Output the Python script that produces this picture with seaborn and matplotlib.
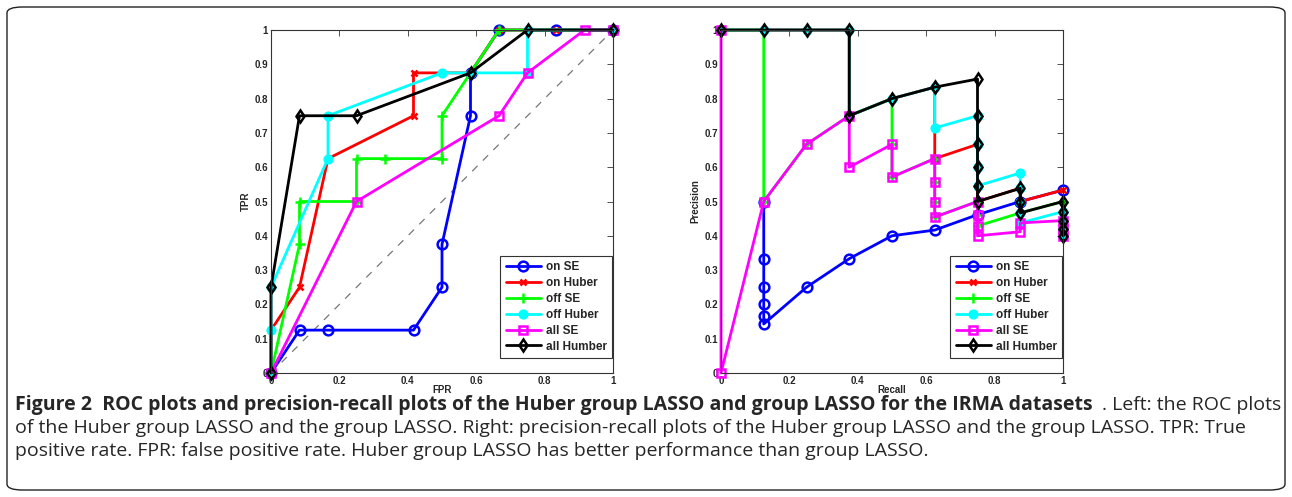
import numpy as np
import pandas as pd
import seaborn as sns
import matplotlib.pyplot as plt
from matplotlib.patches import FancyBboxPatch

#######################################
######## ROC data (FPR, TPR) ##########
#######################################
labels = ['on SE', 'on Huber', 'off SE', 'off Huber', 'all SE', 'all Humber']

roc_on_se_x = [0, 1/12, 2/12, 5/12, 6/12, 6/12, 7/12, 7/12, 8/12, 10/12, 1]
roc_on_se_y = [0, 0.125, 0.125, 0.125, 0.25, 0.375, 0.75, 0.875, 1, 1, 1]
roc_on_hub_x = [0, 0, 1/12, 2/12, 5/12, 5/12, 6/12, 7/12, 8/12, 10/12, 1]
roc_on_hub_y = [0, 0.125, 0.25, 0.625, 0.75, 0.875, 0.875, 0.875, 1, 1, 1]
roc_off_se_x = [0, 1/12, 1/12, 3/12, 3/12, 4/12, 6/12, 6/12, 7/12, 8/12, 1]
roc_off_se_y = [0, 0.375, 0.5, 0.5, 0.625, 0.625, 0.625, 0.75, 0.875, 1, 1]
roc_off_hub_x = [0, 0, 0, 2/12, 2/12, 6/12, 7/12, 9/12, 9/12, 1]
roc_off_hub_y = [0, 0.125, 0.25, 0.625, 0.75, 0.875, 0.875, 0.875, 1, 1]
roc_all_se_x = [0, 3/12, 8/12, 9/12, 11/12, 1]
roc_all_se_y = [0, 0.5, 0.75, 0.875, 1, 1]
roc_all_hub_x = [0, 0, 1/12, 3/12, 7/12, 9/12, 1]
roc_all_hub_y = [0, 0.25, 0.75, 0.75, 0.875, 1, 1]

#######################################
######## PR data (Recall, Precision) ##
#######################################
pr_on_se_x = [0.125, 0.125, 0.125, 0.125, 0.125, 0.125, 0.25, 0.375, 0.5, 0.625, 0.75, 0.875, 1]
pr_on_se_y = [0.5, 0.3333, 0.25, 0.2, 0.1667, 0.1429, 0.25, 0.3333, 0.4, 0.4167, 0.4615, 0.5, 0.5333]
pr_on_hub_x = [0, 0.125, 0.25, 0.375, 0.375, 0.5, 0.625, 0.625, 0.625, 0.75, 0.75, 0.75, 0.75, 0.875, 0.875, 1]
pr_on_hub_y = [1, 1, 1, 1, 0.75, 0.8, 0.8333, 0.7143, 0.625, 0.6667, 0.6, 0.5455, 0.5, 0.5385, 0.5, 0.5333]
pr_off_se_x = [0, 0.125, 0.125, 0.25, 0.375, 0.5, 0.5, 0.5, 0.625, 0.625, 0.625, 0.625, 0.75, 0.75, 0.75, 0.875, 1]
pr_off_se_y = [1, 1, 0.5, 0.6667, 0.75, 0.8, 0.6667, 0.5714, 0.625, 0.5556, 0.5, 0.4545, 0.5, 0.4615, 0.4286, 0.4667, 0.5]
pr_off_hub_x = [0, 0.125, 0.25, 0.375, 0.375, 0.5, 0.625, 0.625, 0.75, 0.75, 0.75, 0.75, 0.875, 0.875, 0.875, 0.875, 0.875, 1, 1, 1, 1]
pr_off_hub_y = [1, 1, 1, 1, 0.75, 0.8, 0.8333, 0.7143, 0.75, 0.6667, 0.6, 0.5455, 0.5833, 0.5385, 0.5, 0.4667, 0.4375, 0.4706, 0.4444, 0.4211, 0.4]
pr_all_se_x = [0, 0, 0.125, 0.25, 0.375, 0.375, 0.5, 0.5, 0.625, 0.625, 0.625, 0.625, 0.75, 0.75, 0.75, 0.75, 0.875, 0.875, 1, 1, 1]
pr_all_se_y = [1, 0, 0.5, 0.6667, 0.75, 0.6, 0.6667, 0.5714, 0.625, 0.5556, 0.5, 0.4545, 0.5, 0.4615, 0.4286, 0.4, 0.4118, 0.4375, 0.4444, 0.4211, 0.4]
pr_all_hub_x = [0, 0.125, 0.25, 0.375, 0.375, 0.5, 0.625, 0.75, 0.75, 0.75, 0.75, 0.75, 0.75, 0.875, 0.875, 0.875, 1, 1, 1, 1, 1]
pr_all_hub_y = [1, 1, 1, 1, 0.75, 0.8, 0.8333, 0.8571, 0.75, 0.6667, 0.6, 0.5455, 0.5, 0.5385, 0.5, 0.4667, 0.5, 0.4706, 0.4444, 0.4211, 0.4]

roc_data = [(roc_on_se_x, roc_on_se_y), (roc_on_hub_x, roc_on_hub_y), (roc_off_se_x, roc_off_se_y),
            (roc_off_hub_x, roc_off_hub_y), (roc_all_se_x, roc_all_se_y), (roc_all_hub_x, roc_all_hub_y)]
pr_data = [(pr_on_se_x, pr_on_se_y), (pr_on_hub_x, pr_on_hub_y), (pr_off_se_x, pr_off_se_y),
           (pr_off_hub_x, pr_off_hub_y), (pr_all_se_x, pr_all_se_y), (pr_all_hub_x, pr_all_hub_y)]

x_ticks = [0, 0.2, 0.4, 0.6, 0.8, 1]
y_ticks = [0, 0.1, 0.2, 0.3, 0.4, 0.5, 0.6, 0.7, 0.8, 0.9, 1]
x_ticklabels = ['0', '0.2', '0.4', '0.6', '0.8', '1']
y_ticklabels = ['0', '0.1', '0.2', '0.3', '0.4', '0.5', '0.6', '0.7', '0.8', '0.9', '1']

#####################################
########### Plotting ################
#####################################
colors = ['#0000ff', '#ff0000', '#00ff00', '#00ffff', '#ff00ff', '#000000']
styles = [dict(marker='o', markersize=7, markerfacecolor='none'),
          dict(marker='x', markersize=5),
          dict(marker='+', markersize=7),
          dict(marker='.', markersize=11),
          dict(marker='s', markersize=6, markerfacecolor='none'),
          dict(marker='d', markersize=6.5, markerfacecolor='none')]

sns.set_style("white")
plt.rcParams['font.family'] = ['Liberation Sans', 'DejaVu Sans']
plt.rcParams['xtick.direction'] = 'in'
plt.rcParams['ytick.direction'] = 'in'

W, H = 1292, 497
fig = plt.figure(figsize=(W / 100, H / 100), dpi=100)
ax1 = fig.add_axes([271 / W, 1 - 373 / H, 342 / W, 343 / H])
ax2 = fig.add_axes([721 / W, 1 - 373 / H, 342 / W, 343 / H])


def draw(ax, data, xlabel, ylabel):
    for (xs, ys), lab, col, st in zip(data, labels, colors, styles):
        df = pd.DataFrame({'x': xs, 'y': ys})
        sns.lineplot(data=df, x='x', y='y', sort=False, estimator=None, color=col,
                     linewidth=2, label=lab, markeredgecolor=col, markeredgewidth=1.8,
                     ax=ax, **st)
    ax.set_xlim(0, 1)
    ax.set_ylim(0, 1)
    ax.set_xticks(x_ticks)
    ax.set_xticklabels(x_ticklabels)
    ax.set_yticks(y_ticks)
    ax.set_yticklabels(y_ticklabels)
    ax.tick_params(labelsize=7, length=4, width=0.6, color='#333333', top=True, right=True,
                   pad=2)
    for t in ax.get_xticklabels() + ax.get_yticklabels():
        t.set_fontweight('bold')
    for s in ax.spines.values():
        s.set_visible(True)
        s.set_color('#333333')
        s.set_linewidth(0.8)
    ax.set_xlabel(xlabel, fontsize=7, fontweight='bold', labelpad=-0.5)
    ax.set_ylabel(ylabel, fontsize=7, fontweight='bold', labelpad=3)
    leg = ax.legend(loc='lower right', fontsize=8.5, handlelength=3.0, handletextpad=0.4,
                    labelspacing=0.33, borderpad=0.45, borderaxespad=0, fancybox=False,
                    framealpha=1, edgecolor='#333333', bbox_to_anchor=(0.997, 0.044))
    leg.get_frame().set_linewidth(0.8)
    for t in leg.get_texts():
        t.set_fontweight('bold')


draw(ax1, roc_data, 'FPR', 'TPR')
ax1.plot([0, 1], [0, 1], ls=(0, (6, 6)), color='#777777', lw=0.9, zorder=1)
draw(ax2, pr_data, 'Recall', 'Precision')
for ax in (ax1, ax2):
    for ln in ax.lines:
        ln.set_clip_on(False)

# caption
cap_font = ['Open Sans', 'DejaVu Sans']
cap_size = 14
fig.text(15 / W, 1 - 405 / H, 'Figure 2  ROC plots and precision-recall plots of the Huber group LASSO and group LASSO for the IRMA datasets',
         fontsize=cap_size, fontweight='bold', family=cap_font, va='center', ha='left')
fig.text(1281 / W, 1 - 405 / H, '. Left: the ROC plots', fontsize=cap_size, family=cap_font, va='center', ha='right')
fig.text(15 / W, 1 - 428 / H, 'of the Huber group LASSO and the group LASSO. Right: precision-recall plots of the Huber group LASSO and the group LASSO. TPR: True',
         fontsize=cap_size, family=cap_font, va='center', ha='left')
fig.text(15 / W, 1 - 451 / H, 'positive rate. FPR: false positive rate. Huber group LASSO has better performance than group LASSO.',
         fontsize=cap_size, family=cap_font, va='center', ha='left')

border = FancyBboxPatch((7 / W, 7 / H), 1278 / W, 483 / H, boxstyle='round,pad=0,rounding_size=0.012',
                        transform=fig.transFigure, fill=False, edgecolor='#222222', linewidth=1.0)
fig.patches.append(border)

plt.savefig('out.png', dpi=100)
